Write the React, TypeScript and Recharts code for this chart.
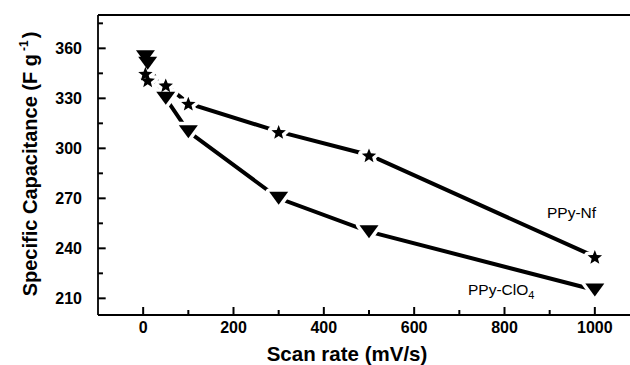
import React from 'react';
import { LineChart, Line, XAxis, YAxis, ReferenceLine } from 'recharts';

// scan rate (mV/s) and specific capacitance (F/g)
const scanRates = [5, 10, 50, 100, 300, 500, 1000];
const nfCapacitance = [345, 341, 338, 327, 310, 296, 235];
const clo4Capacitance = [355, 351, 330, 310, 270, 250, 215];

const xTicks = [0, 100, 200, 300, 400, 500, 600, 700, 800, 900, 1000];
const xLabels = [0, 200, 400, 600, 800, 1000];
const yTicks = [210, 225, 240, 255, 270, 285, 300, 315, 330, 345, 360, 375];
const yLabels = [210, 240, 270, 300, 330, 360];

const X_MIN = -100;
const X_MAX = 1100;
const Y_MIN = 200;
const Y_MAX = 380;

const nfData = scanRates.map((x, i) => ({ x, y: nfCapacitance[i] }));
const clo4Data = scanRates.map((x, i) => ({ x, y: clo4Capacitance[i] }));

const FONT = '"Liberation Sans", Arial, Helvetica, sans-serif';

const starPoints = (cx: number, cy: number) => {
  const pts: string[] = [];
  for (let i = 0; i < 10; i++) {
    const r = i % 2 === 0 ? 7.6 : 3.3;
    const a = -Math.PI / 2 + (i * Math.PI) / 5;
    pts.push(`${cx + r * Math.cos(a)},${cy + 1 + r * Math.sin(a)}`);
  }
  return pts.join(' ');
};

const triPoints = (cx: number, cy: number) =>
  `${cx - 9.5},${cy - 6.5} ${cx + 9.5},${cy - 6.5} ${cx},${cy + 6.5}`;

// halo = white outline that cuts the line near each symbol (Origin style gap)
const makeDot = (shape: (cx: number, cy: number) => string, halo: boolean) => (props: any) => {
  const { cx, cy, index } = props;
  if (cx == null || cy == null) return null;
  return halo ? (
    <polygon key={index} points={shape(cx, cy)} fill="#fff" stroke="#fff" strokeWidth={7} strokeLinejoin="round" />
  ) : (
    <polygon key={index} points={shape(cx, cy)} fill="#000" />
  );
};

const XTick = (props: any) => {
  const { x, y, payload } = props;
  if (!xLabels.includes(payload.value)) return <g />;
  return (
    <text x={x} y={y + 18} textAnchor="middle" fontFamily={FONT} fontWeight="bold"
      fontSize={16} fill="#000">
      {payload.value}
    </text>
  );
};

const YTick = (props: any) => {
  const { x, y, payload } = props;
  if (!yLabels.includes(payload.value)) return <g />;
  return (
    <text x={x - 16} y={y} dy="0.36em" textAnchor="end" fontFamily={FONT}
      fontWeight="bold" fontSize={16} fill="#000">
      {payload.value}
    </text>
  );
};

// inward tick marks, given in axis units (about 8px major / 5px minor)
const xTickLen = (v: number) => (xLabels.includes(v) ? 4.8 : 3);
const yTickLen = (v: number) => (yLabels.includes(v) ? 17 : 11);

export default function App() {
  return (
    <div style={{ position: 'absolute', left: 0, top: 0, width: 630, height: 365, overflow: 'hidden', background: '#fff' }}>
      <LineChart width={650} height={365} margin={{ top: 15, right: 10, left: 0, bottom: 0 }}>
        <XAxis type="number" dataKey="x" domain={[X_MIN, X_MAX]} ticks={xTicks} interval={0}
          tickLine={false} tickSize={0} tickMargin={0} height={50} allowDataOverflow
          axisLine={{ stroke: '#000', strokeWidth: 1.8 }} tick={XTick} />
        <YAxis type="number" dataKey="y" domain={[Y_MIN, Y_MAX]} ticks={yTicks} interval={0}
          tickLine={false} tickSize={0} tickMargin={0} width={98} allowDataOverflow
          axisLine={{ stroke: '#000', strokeWidth: 1.8 }} tick={YTick} />
        <ReferenceLine y={Y_MAX} stroke="#000" strokeWidth={1.8} ifOverflow="visible" />
        {xTicks.map((v) => (
          <ReferenceLine key={`xt${v}`} segment={[{ x: v, y: Y_MIN }, { x: v, y: Y_MIN + xTickLen(v) }]}
            stroke="#000" strokeWidth={2} ifOverflow="visible" />
        ))}
        {yTicks.map((v) => (
          <ReferenceLine key={`yt${v}`} segment={[{ x: X_MIN, y: v }, { x: X_MIN + yTickLen(v), y: v }]}
            stroke="#000" strokeWidth={2} ifOverflow="visible" />
        ))}
        <Line data={nfData} dataKey="y" stroke="#000" strokeWidth={4} dot={false}
          activeDot={false} isAnimationActive={false} />
        <Line data={clo4Data} dataKey="y" stroke="#000" strokeWidth={4} dot={false}
          activeDot={false} isAnimationActive={false} />
        <Line data={nfData} dataKey="y" stroke="none" dot={makeDot(starPoints, true)}
          activeDot={false} isAnimationActive={false} />
        <Line data={clo4Data} dataKey="y" stroke="none" dot={makeDot(triPoints, true)}
          activeDot={false} isAnimationActive={false} />
        <Line data={nfData} dataKey="y" stroke="none" dot={makeDot(starPoints, false)}
          activeDot={false} isAnimationActive={false} />
        <Line data={clo4Data} dataKey="y" stroke="none" dot={makeDot(triPoints, false)}
          activeDot={false} isAnimationActive={false} />
      </LineChart>
      <svg width={630} height={365} style={{ position: 'absolute', left: 0, top: 0, pointerEvents: 'none' }}>
        <text x={347} y={361} textAnchor="middle" fontFamily={FONT} fontWeight="bold" fontSize={20.5} fill="#000">
          Scan rate (mV/s)
        </text>
        <text transform="translate(37,164) rotate(-90)" textAnchor="middle" fontFamily={FONT}
          fontWeight="bold" fontSize={20} fill="#000">
          Specific Capacitance (F g
          <tspan fontSize={12} dy={-9} dx={3}>-1</tspan>
          <tspan dy={9} dx={2}>)</tspan>
        </text>
        <text x={547} y={218} fontFamily={FONT} fontSize={15.5} fill="#000">PPy-Nf</text>
        <text x={468} y={295} fontFamily={FONT} fontSize={15.5} fill="#000">
          PPy-ClO<tspan fontSize={11} dy={4}>4</tspan>
        </text>
      </svg>
    </div>
  );
}
